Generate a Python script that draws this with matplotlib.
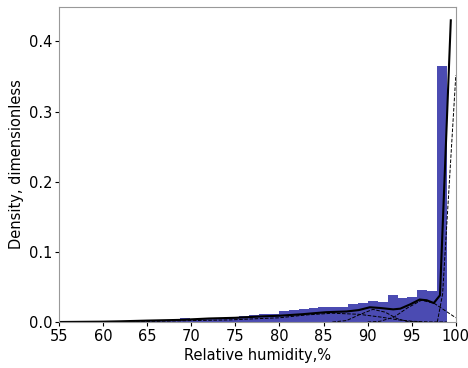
import numpy as np
import matplotlib
matplotlib.use('Agg')
import matplotlib.pyplot as plt

# histogram: 33 bins between 62 and 99 %
bin_lo, bin_hi, n_bins = 62.0, 99.0, 33
heights = [0.001, 0.0015, 0.002, 0.002, 0.002, 0.003, 0.006, 0.004, 0.004, 0.0055,
           0.006, 0.0075, 0.009, 0.010, 0.012, 0.012, 0.016, 0.017, 0.018, 0.020,
           0.021, 0.022, 0.022, 0.026, 0.027, 0.030, 0.029, 0.039, 0.034, 0.036,
           0.045, 0.044, 0.365]

# mixture density (solid)
mix_x = [55, 60, 62, 65, 68.7, 72, 75, 78, 80.05, 82.5, 85.3, 87.6, 89, 90.25, 91.4,
         92.9, 93.7, 94.8, 95.9, 96.7, 97.5, 98.2, 99.43]
mix_y = [0.0, 0.0005, 0.001, 0.002, 0.003, 0.005, 0.006, 0.008, 0.009, 0.011, 0.014,
         0.015, 0.017, 0.021, 0.020, 0.018, 0.019, 0.025, 0.032, 0.031, 0.027, 0.038, 0.430]

# mixture components (dashed)
compA_x = [62, 66, 70, 74.4, 78, 80, 83, 86, 89, 91.5, 93.5, 95.1, 97, 99]
compA_y = [0.0005, 0.001, 0.002, 0.003, 0.005, 0.006, 0.010, 0.0125, 0.011, 0.007, 0.003, 0.001, 0.0002, 0.0]
compB_x = [86, 87.6, 89, 90.6, 92, 93.3, 94.4, 96]
compB_y = [0.0, 0.002, 0.010, 0.018, 0.014, 0.005, 0.001, 0.0]
compC_x = [90, 91.4, 93, 94.5, 96.1, 97.5, 100]
compC_y = [0.0, 0.001, 0.007, 0.020, 0.031, 0.027, 0.006]
compD_x = [97.9, 98.5, 100]
compD_y = [0.0, 0.040, 0.352]

edges = np.linspace(bin_lo, bin_hi, n_bins + 1)
width = edges[1] - edges[0]

fig = plt.figure(figsize=(4.68, 3.68), dpi=100)
ax = fig.add_axes([0.126, 0.125, 0.848, 0.856])

ax.bar(edges[:-1], heights, width=width, align='edge', color='#4b4bb2', linewidth=0)
for cx, cy in [(compA_x, compA_y), (compB_x, compB_y), (compC_x, compC_y), (compD_x, compD_y)]:
    ax.plot(cx, cy, 'k--', lw=0.7)
ax.plot(mix_x, mix_y, 'k-', lw=1.5)

ax.set_xlim(55, 100)
ax.set_ylim(0, 0.449)
ax.set_xticks(range(55, 101, 5))
ax.set_yticks([0.0, 0.1, 0.2, 0.3, 0.4])
ax.tick_params(labelsize=10.5, length=3, pad=2)
for s in ax.spines.values():
    s.set_color('#999999')
ax.set_xlabel('Relative humidity,%', fontsize=10.5, labelpad=3)
ax.set_ylabel('Density, dimensionless', fontsize=10.5, labelpad=3)

fig.savefig('out.png', dpi=100)
